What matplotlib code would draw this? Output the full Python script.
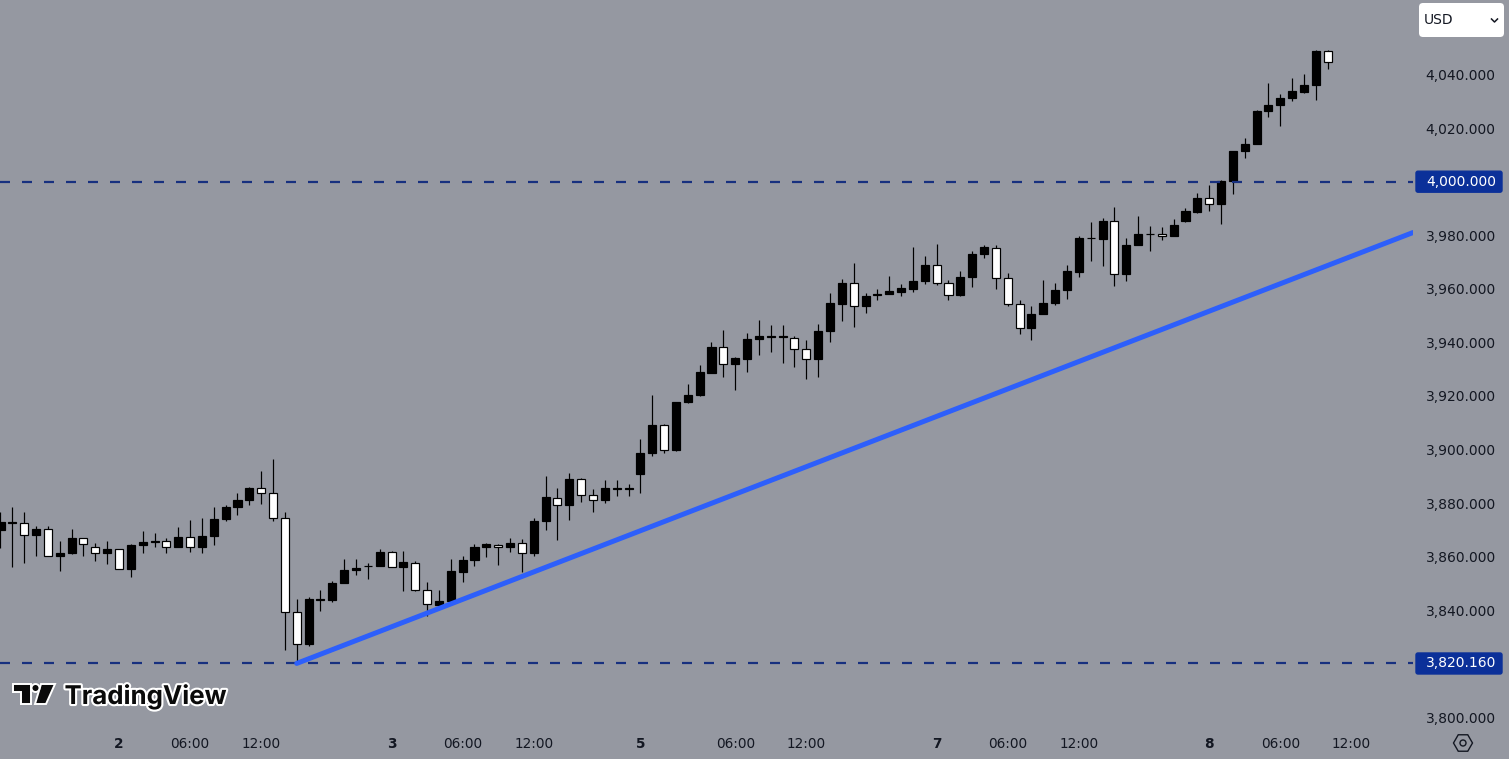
import numpy as np
import matplotlib
matplotlib.use('Agg')
import matplotlib.pyplot as plt
import matplotlib.patheffects as pe
from matplotlib.patches import FancyBboxPatch, Polygon, RegularPolygon, Circle

# hourly candles
opens = [3869.8, 3872.5, 3872.6, 3868.0, 3870.4, 3860.2, 3861.3, 3867.0, 3863.6, 3861.3,
         3862.9, 3855.3, 3864.3, 3865.4, 3865.9, 3863.6, 3867.4, 3863.6, 3867.7, 3874.0,
         3878.5, 3881.1, 3885.7, 3883.8, 3874.4, 3839.4, 3827.4, 3843.8, 3843.8, 3850.1,
         3855.0, 3856.5, 3856.5, 3861.8, 3856.1, 3857.6, 3847.5, 3841.8, 3843.4, 3854.2,
         3858.7, 3863.6, 3864.3, 3863.6, 3865.1, 3861.3, 3873.3, 3882.0, 3879.2, 3889.1,
         3883.0, 3881.1, 3885.4, 3885.2, 3890.8, 3898.6, 3909.2, 3899.8, 3917.7, 3920.3,
         3928.7, 3938.2, 3931.8, 3933.7, 3941.2, 3941.9, 3941.9, 3941.5, 3937.4, 3933.7,
         3944.2, 3954.2, 3962.2, 3953.5, 3957.6, 3958.0, 3958.7, 3959.8, 3962.8, 3968.9,
         3962.2, 3957.6, 3964.3, 3972.9, 3975.2, 3964.1, 3954.4, 3945.4, 3950.5, 3954.6,
         3959.5, 3966.2, 3978.9, 3978.4, 3985.3, 3965.4, 3976.2, 3980.4, 3980.5, 3979.6,
         3985.4, 3988.8, 3993.9, 3991.5, 4000.1, 4011.3, 4013.9, 4026.2, 4028.5, 4031.1,
         4033.6, 4035.9, 4048.6]
highs = [3876.6, 3878.4, 3876.5, 3871.3, 3871.3, 3865.7, 3870.4, 3867.0, 3865.2, 3866.0,
         3862.9, 3864.8, 3869.4, 3868.9, 3867.0, 3870.9, 3873.8, 3874.6, 3878.4, 3879.4,
         3883.6, 3886.1, 3891.8, 3896.5, 3876.5, 3844.3, 3845.0, 3847.4, 3851.1, 3859.0,
         3859.0, 3857.8, 3862.9, 3862.3, 3862.3, 3858.5, 3850.6, 3847.6, 3859.0, 3860.3,
         3864.8, 3865.2, 3864.6, 3867.0, 3866.7, 3874.6, 3890.3, 3885.8, 3891.3, 3889.4,
         3885.3, 3888.8, 3888.8, 3887.3, 3904.1, 3920.5, 3909.7, 3917.9, 3924.5, 3931.6,
         3940.2, 3944.8, 3934.6, 3943.5, 3948.5, 3946.6, 3946.3, 3942.5, 3941.0, 3946.9,
         3958.5, 3963.7, 3969.8, 3958.5, 3960.0, 3964.9, 3961.8, 3975.6, 3972.4, 3976.9,
         3963.3, 3966.7, 3974.1, 3976.5, 3976.5, 3965.9, 3955.8, 3953.6, 3963.3, 3962.2,
         3968.9, 3979.7, 3985.1, 3986.4, 3990.7, 3979.0, 3987.2, 3983.5, 3983.1, 3986.1,
         3990.2, 3995.8, 3998.8, 4000.7, 4011.4, 4016.4, 4026.7, 4036.9, 4032.7, 4038.8,
         4040.3, 4049.1, 4049.3]
lows = [3863.2, 3856.1, 3857.6, 3860.1, 3860.2, 3854.6, 3860.9, 3860.2, 3858.2, 3857.1,
        3855.4, 3852.4, 3861.3, 3863.6, 3861.3, 3863.6, 3861.7, 3861.3, 3864.2, 3873.3,
        3875.5, 3879.2, 3879.6, 3873.3, 3825.0, 3820.16, 3826.6, 3839.9, 3842.9, 3850.1,
        3853.0, 3851.6, 3856.5, 3856.2, 3847.1, 3847.1, 3837.8, 3841.0, 3843.4, 3850.5,
        3856.5, 3859.8, 3856.8, 3861.7, 3854.2, 3860.2, 3869.8, 3866.3, 3873.6, 3880.4,
        3876.6, 3880.0, 3882.8, 3882.5, 3883.7, 3897.5, 3898.6, 3899.4, 3917.3, 3919.8,
        3928.5, 3927.0, 3922.1, 3928.9, 3935.2, 3936.3, 3932.2, 3930.7, 3926.2, 3927.0,
        3940.1, 3947.9, 3945.7, 3950.9, 3955.7, 3958.0, 3957.2, 3958.7, 3961.8, 3961.3,
        3955.7, 3957.2, 3960.6, 3971.4, 3959.8, 3953.5, 3943.0, 3940.8, 3950.5, 3953.9,
        3956.1, 3964.3, 3970.3, 3968.4, 3961.2, 3962.8, 3976.2, 3974.0, 3978.1, 3979.6,
        3984.8, 3988.2, 3989.2, 3984.1, 3995.3, 4008.7, 4013.9, 4024.3, 4020.9, 4030.0,
        4033.0, 4030.4, 4041.9]
closes = [3872.8, 3872.8, 3868.2, 3870.4, 3860.3, 3861.4, 3867.0, 3864.7, 3861.4, 3862.9,
          3855.5, 3864.4, 3865.5, 3865.9, 3863.6, 3867.4, 3863.6, 3867.8, 3874.1, 3878.7,
          3881.2, 3885.7, 3883.7, 3874.5, 3839.4, 3827.5, 3844.3, 3844.3, 3850.2, 3855.1,
          3855.8, 3856.7, 3861.8, 3856.2, 3858.1, 3847.6, 3842.3, 3843.5, 3854.7, 3858.8,
          3863.7, 3864.6, 3863.7, 3865.2, 3861.4, 3873.4, 3882.3, 3879.4, 3889.1, 3883.1,
          3881.1, 3885.7, 3885.7, 3885.7, 3898.8, 3909.2, 3899.9, 3917.8, 3920.4, 3929.0,
          3938.3, 3932.0, 3934.0, 3941.3, 3942.2, 3942.2, 3942.2, 3937.4, 3933.7, 3944.3,
          3954.7, 3962.3, 3953.5, 3957.3, 3958.1, 3959.2, 3960.3, 3962.9, 3968.9, 3962.2,
          3957.7, 3964.4, 3973.0, 3975.6, 3964.1, 3954.4, 3945.4, 3950.6, 3954.7, 3959.6,
          3966.7, 3979.0, 3979.1, 3985.3, 3965.4, 3976.4, 3980.5, 3980.6, 3979.6, 3983.8,
          3989.1, 3993.9, 3991.5, 4000.2, 4011.4, 4014.1, 4026.4, 4028.6, 4031.2, 4033.8,
          4036.1, 4048.8, 4044.5]

price_ticks = [3800, 3840, 3860, 3880, 3900, 3920, 3940, 3960, 3980, 4020, 4040]
time_pos = [10, 16, 22, 33, 39, 45, 54, 62, 68, 79, 85, 91, 102, 108, 114]
time_labels = ['2', '06:00', '12:00', '3', '06:00', '12:00', '5', '06:00', '12:00',
               '7', '06:00', '12:00', '8', '06:00', '12:00']
level_prices = [4000.0, 3820.16]
level_labels = ['4,000.000', '3,820.160']
trend_x = [25, 119.2]
trend_y = [3820.16, 3981.0]

W, H = 1509, 759
BG = '#9598a1'
TXT = '#131722'
NAVY = '#17307f'

plt.rcParams['font.family'] = ['DejaVu Sans']

fig = plt.figure(figsize=(W / 100, H / 100), dpi=100, facecolor=BG)
ax = fig.add_axes([0, (H - 730) / H, 1413 / W, 730 / H], facecolor=BG)

opens = np.array(opens)
closes = np.array(closes)
x = np.arange(len(opens))
px = 0.72  # one pixel in points

ax.vlines(x, lows, highs, color='black', linewidth=1.2 * px, zorder=2)
fills = ['black' if c >= o else 'white' for o, c in zip(opens, closes)]
ax.bar(x, np.abs(closes - opens), bottom=np.minimum(opens, closes), width=0.68,
       color=fills, edgecolor='black', linewidth=1.2 * px, zorder=3)

for lev in level_prices:
    ax.axhline(lev, color=NAVY, linewidth=2.2 * px, linestyle=(0, (10 / 2.2, 12 / 2.2)), zorder=4)
ax.plot(trend_x, trend_y, color='#2d5ffb', linewidth=5 * px, solid_capstyle='round', zorder=5)

ax.set_xlim(-0.042, 119.2)
ax.set_ylim(3795.3, 4067.8)
for s in ax.spines.values():
    s.set_visible(False)

ax.yaxis.tick_right()
ax.set_yticks(price_ticks)
ax.set_yticklabels(['{:,.3f}'.format(v) for v in price_ticks])
ax.tick_params(axis='y', length=0, pad=9.0, labelsize=10, labelcolor=TXT)
ax.set_xticks(time_pos)
ax.set_xticklabels(time_labels)
ax.tick_params(axis='x', length=0, pad=5.4, labelsize=9.8, labelcolor=TXT)
for lab in ax.get_xticklabels():
    if ':' not in lab.get_text():
        lab.set_fontweight('bold')

# overlay in pixel coordinates for the chart furniture
ui = fig.add_axes([0, 0, 1, 1], facecolor='none')
ui.set_xlim(0, W)
ui.set_ylim(H, 0)
ui.axis('off')

# price labels on the scale
price_y = [717.5 - (p - 3800) * 2.679 for p in level_prices]
for y, lab in zip(price_y, level_labels):
    ui.add_patch(FancyBboxPatch((1416, y - 10.5), 86, 21, boxstyle='round,pad=0,rounding_size=2',
                                facecolor='#0b3099', edgecolor='#0b3099', linewidth=1))
    ui.text(1461.5, y, lab, color='white', fontsize=10, ha='center', va='center')

# currency box
ui.add_patch(FancyBboxPatch((1419, 3), 85, 34, boxstyle='round,pad=0,rounding_size=4',
                            facecolor='white', edgecolor='none'))
ui.text(1424, 20.5, 'USD', color=TXT, fontsize=10, ha='left', va='center')
ui.plot([1491.5, 1494.5, 1497.5], [19, 22, 19], color=TXT, linewidth=1.1)

# settings icon
ui.add_patch(RegularPolygon((1463, 743), 6, radius=9.5, orientation=np.pi / 6, fill=False,
                            edgecolor=TXT, linewidth=1))
ui.add_patch(Circle((1463, 743), 3, fill=False, edgecolor=TXT, linewidth=1))

# logo
halo = [pe.withStroke(linewidth=3, foreground='white')]
for pts in ([(13, 684), (31, 684), (31, 704), (21, 704), (21, 692), (13, 692)],
            [(41, 684), (55, 684), (46, 704), (35, 704)]):
    ui.add_patch(Polygon(pts, facecolor='#0a0a0a', edgecolor='white', linewidth=1.4, zorder=6))
ui.add_patch(Circle((35.5, 688), 4, facecolor='#0a0a0a', edgecolor='white', linewidth=1.4, zorder=6))
ui.text(64.5, 704, 'TradingView', family='Inter', fontweight='bold', fontsize=18.6,
        color='#0a0a0a', ha='left', va='baseline', path_effects=halo, zorder=7)

fig.savefig('out.png', dpi=100, facecolor=BG)
